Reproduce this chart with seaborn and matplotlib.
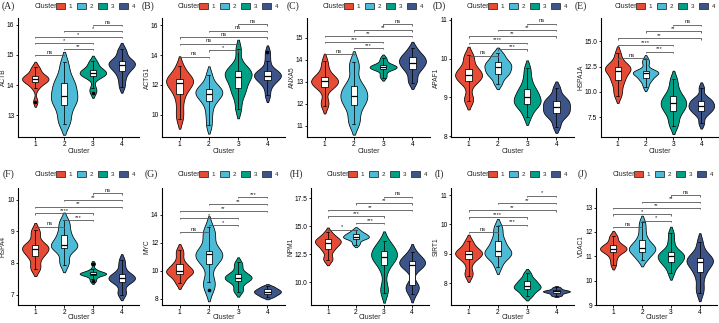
import numpy as np
import pandas as pd
import matplotlib
matplotlib.use("Agg")
import matplotlib.pyplot as plt
from matplotlib.patches import Patch
import seaborn as sns

# 聚类和颜色
clusters = ["1", "2", "3", "4"]
cluster_colors = ["#E64B35", "#4DBBD5", "#00A087", "#3C5488"]
genes = ["ACTB", "ACTG1", "ANXA5", "APAF1", "HSPA1A",
         "HSPA4", "MYC", "NPM1", "SIRT1", "VDAC1"]
panel_tags = ["(A)", "(B)", "(C)", "(D)", "(E)", "(F)", "(G)", "(H)", "(I)", "(J)"]

# 每个基因在4个cluster中的表达值
actb = [[13.45, 13.9, 14.05, 14.1, 14.15, 14.2, 14.2, 14.25, 14.3, 14.35, 14.5, 14.6],
        [12.7, 12.9, 13.2, 13.4, 13.5, 13.6, 13.7, 13.9, 14.05, 14.1, 14.4, 14.75],
        [13.75, 13.9, 14.25, 14.3, 14.35, 14.4, 14.4, 14.45, 14.5, 14.55, 14.7, 14.8],
        [13.95, 14.2, 14.4, 14.5, 14.6, 14.65, 14.7, 14.75, 14.8, 14.85, 15.05, 15.2]]
actg1 = [[9.7, 10.3, 11.0, 11.5, 11.8, 12.0, 12.2, 12.3, 12.4, 12.5, 12.8, 13.3],
         [9.3, 10.0, 10.6, 11.0, 11.2, 11.35, 11.45, 11.6, 11.7, 11.85, 12.1, 12.7],
         [10.4, 11.2, 11.6, 11.85, 12.2, 12.5, 12.6, 12.8, 12.9, 13.0, 13.4, 14.4],
         [11.3, 11.9, 12.2, 12.4, 12.5, 12.6, 12.65, 12.8, 12.9, 13.0, 13.6, 14.2]]
anxa5 = [[11.9, 12.15, 12.7, 12.8, 12.9, 13.0, 13.05, 13.1, 13.2, 13.3, 13.6, 13.95],
         [11.1, 11.3, 11.8, 12.0, 12.2, 12.3, 12.4, 12.6, 12.8, 12.9, 13.6, 13.9],
         [13.2, 13.35, 13.55, 13.58, 13.62, 13.65, 13.7, 13.72, 13.76, 13.8, 13.95, 14.1],
         [12.95, 13.2, 13.5, 13.6, 13.75, 13.85, 13.9, 14.0, 14.1, 14.2, 14.3, 14.55]]
apaf1 = [[8.9, 9.0, 9.35, 9.45, 9.5, 9.55, 9.6, 9.65, 9.7, 9.8, 10.0, 10.1],
         [9.35, 9.5, 9.6, 9.62, 9.7, 9.75, 9.8, 9.85, 9.9, 9.95, 10.05, 10.15],
         [8.5, 8.7, 8.8, 8.85, 8.9, 8.95, 9.05, 9.1, 9.2, 9.3, 9.5, 9.75],
         [8.25, 8.45, 8.55, 8.6, 8.65, 8.72, 8.78, 8.85, 8.9, 8.95, 9.05, 9.25]]
hspa1a = [[9.6, 10.2, 10.9, 11.2, 11.6, 12.0, 12.2, 12.3, 12.4, 12.6, 13.0, 13.8],
          [10.5, 11.0, 11.3, 11.4, 11.7, 11.85, 11.9, 11.95, 12.0, 12.1, 12.8, 13.2],
          [6.6, 7.2, 7.9, 8.2, 8.5, 8.8, 8.9, 9.2, 9.5, 9.8, 10.5, 11.3],
          [6.9, 7.7, 8.0, 8.2, 8.4, 8.55, 8.65, 8.9, 9.1, 9.2, 9.5, 10.4]]
hspa4 = [[7.8, 7.9, 8.15, 8.25, 8.35, 8.42, 8.48, 8.5, 8.55, 8.65, 8.9, 9.05],
         [7.95, 8.1, 8.4, 8.5, 8.52, 8.55, 8.6, 8.75, 8.85, 9.0, 9.2, 9.35],
         [7.42, 7.5, 7.6, 7.62, 7.64, 7.65, 7.67, 7.68, 7.7, 7.72, 7.8, 7.98],
         [7.0, 7.1, 7.35, 7.42, 7.47, 7.5, 7.54, 7.58, 7.62, 7.7, 7.9, 8.1]]
myc = [[9.1, 9.4, 9.7, 9.8, 9.9, 9.95, 10.05, 10.2, 10.4, 10.6, 11.1, 11.5],
       [8.6, 9.2, 9.2, 10.5, 10.7, 11.0, 11.2, 11.25, 11.3, 11.4, 12.5, 12.5, 13.1],
       [8.5, 8.7, 9.1, 9.3, 9.4, 9.45, 9.55, 9.6, 9.75, 9.9, 10.3, 10.6],
       [8.1, 8.2, 8.3, 8.35, 8.42, 8.48, 8.52, 8.58, 8.65, 8.7, 8.8, 8.9]]
npm1 = [[11.95, 12.2, 12.8, 13.0, 13.3, 13.45, 13.55, 13.65, 13.8, 13.9, 14.1, 14.45],
        [13.35, 13.6, 13.85, 13.9, 14.0, 14.05, 14.1, 14.2, 14.3, 14.35, 14.5, 14.7],
        [9.0, 9.6, 11.0, 11.7, 12.0, 12.15, 12.3, 12.6, 12.8, 12.9, 13.3, 13.7],
        [8.9, 9.5, 9.6, 9.7, 11.1, 11.4, 11.55, 11.65, 11.8, 11.9, 12.0, 12.3, 12.7]]
sirt1 = [[8.25, 8.4, 8.7, 8.85, 8.9, 8.98, 9.02, 9.05, 9.1, 9.15, 9.3, 9.45],
         [8.55, 8.8, 8.9, 8.95, 9.05, 9.08, 9.12, 9.25, 9.4, 9.5, 9.75, 9.95],
         [7.55, 7.65, 7.75, 7.8, 7.85, 7.88, 7.92, 7.98, 8.05, 8.1, 8.2, 8.35],
         [7.58, 7.6, 7.65, 7.68, 7.7, 7.71, 7.73, 7.74, 7.75, 7.77, 7.82, 7.86]]
vdac1 = [[10.65, 10.9, 11.1, 11.2, 11.25, 11.28, 11.32, 11.38, 11.45, 11.5, 11.7, 11.85],
         [10.85, 11.0, 11.15, 11.2, 11.3, 11.33, 11.37, 11.5, 11.6, 11.8, 12.1, 12.4],
         [10.3, 10.6, 10.7, 10.8, 10.9, 10.97, 11.03, 11.1, 11.15, 11.3, 11.6, 11.95],
         [9.5, 9.8, 10.2, 10.4, 10.6, 10.7, 10.8, 10.85, 10.9, 11.0, 11.2, 11.6]]
expr = [actb, actg1, anxa5, apaf1, hspa1a, hspa4, myc, npm1, sirt1, vdac1]

# 两两比较及显著性标记
pairs = [(0, 1), (1, 2), (0, 2), (0, 3), (1, 3), (2, 3)]
sig = [["ns", "**", "*", "*", "*", "ns"],
       ["ns", "*", "ns", "ns", "ns", "ns"],
       ["ns", "***", "***", "**", "**", "ns"],
       ["ns", "***", "****", "**", "**", "ns"],
       ["ns", "***", "****", "**", "**", "ns"],
       ["ns", "***", "****", "**", "**", "ns"],
       ["ns", "*", "*", "**", "**", "***"],
       ["*", "***", "***", "**", "**", "ns"],
       ["ns", "***", "****", "**", "**", "*"],
       ["ns", "*", "*", "**", "**", "ns"]]

# 坐标轴刻度
yticks = [[13, 14, 15, 16], [10, 12, 14, 16], [11, 12, 13, 14, 15], [8, 9, 10, 11],
          [7.5, 10.0, 12.5, 15.0], [7, 8, 9, 10], [8, 10, 12, 14],
          [10.0, 12.5, 15.0, 17.5], [8, 9, 10, 11], [9, 10, 11, 12, 13]]

# ---- 布局（像素） ----
ylims = [(12.27, 16.23), (8.53, 16.47), (10.5, 15.9), (7.98, 11.05), (5.53, 17.3),
         (6.67, 10.37), (7.55, 15.9), (7.95, 18.43), (7.26, 11.24), (9.0, 13.8)]
br_base = [15.0, 13.9, 14.27, 10.08, 13.3, 9.15, 12.76, 14.7, 9.75, 12.2]
br_step = [0.2, 0.43, 0.27, 0.165, 0.67, 0.21, 0.5, 0.59, 0.245, 0.26]
ax_px = [(18, 139), (162, 285), (307, 430), (451, 574), (601, 718),
         (18, 139), (162, 285), (311, 429), (451, 574), (596, 717)]
row_px = [(18, 137), (188, 305)]
xlab_top = [148, 314]
tag_x = [2, 142, 287, 433, 575, 3, 145, 290, 435, 578]
leg_x = [35, 178, 323, 467, 615, 35, 178, 327, 467, 613]
head_y = [6, 174]

W, H = 719, 323

sns.set_style("ticks")
plt.rcParams['font.family'] = ['Liberation Sans', 'DejaVu Sans']
plt.rcParams['axes.linewidth'] = 0.8

fig = plt.figure(figsize=(W / 100, H / 100), dpi=100)
pal = dict(zip(clusters, cluster_colors))
handles = [Patch(facecolor=c, edgecolor="#333333", linewidth=0.6) for c in cluster_colors]

for k, gene in enumerate(genes):
    row = k // 5
    l, r = ax_px[k]
    t, b = row_px[row]
    ax = fig.add_axes([l / W, 1 - b / H, (r - l) / W, (b - t) / H])

    df = pd.DataFrame({
        "Cluster": np.repeat(clusters, [len(v) for v in expr[k]]),
        "value": np.concatenate(expr[k]),
    })

    sns.violinplot(data=df, x="Cluster", y="value", hue="Cluster", order=clusters,
                   palette=pal, cut=1.5, bw_adjust=0.65, inner=None, width=0.92,
                   linewidth=0.55, linecolor="black", saturation=1,
                   density_norm="area", legend=False, ax=ax)
    sns.boxplot(data=df, x="Cluster", y="value", order=clusters, width=0.22,
                color="white", linecolor="black", linewidth=0.55, saturation=1,
                whis=2.0, fliersize=1.6,
                flierprops=dict(marker="o", markerfacecolor="black", markeredgecolor="black"),
                medianprops=dict(linewidth=0.9), ax=ax)

    # 显著性括号
    y0, y1 = ylims[k]
    tip = 0.012 * (y1 - y0)
    for n, (i, j) in enumerate(pairs):
        y = br_base[k] + n * br_step[k]
        ax.plot([i, i, j, j], [y - tip, y, y, y - tip], color="#555555", lw=0.6,
                solid_capstyle="butt")
        ax.text((i + j) / 2, y + tip * 0.2, sig[k][n], ha="center", va="bottom",
                fontsize=4.2, color="#222222")

    ax.set_xlim(-0.6, 3.6)
    ax.set_ylim(y0, y1)
    ax.set_yticks(yticks[k])
    if k in (4, 7):
        ax.set_yticklabels([f"{v:.1f}" for v in yticks[k]])
    ax.set_xlabel("Cluster", fontsize=5, va="top")
    ax.xaxis.set_label_coords(0.5, -(xlab_top[row] - b) / (b - t))
    ax.set_ylabel(gene, fontsize=4.8, labelpad=0.3)
    ax.tick_params(axis="both", labelsize=4.8, length=1.8, width=0.6, pad=0.8, colors="black")
    ax.tick_params(axis="x", pad=1.4)
    for s in ["left", "bottom"]:
        ax.spines[s].set_color("black")
        ax.spines[s].set_linewidth(0.8)
    sns.despine(ax=ax)

    # 面板编号和图例
    hy = 1 - head_y[row] / H
    fig.text(tag_x[k] / W, hy, panel_tags[k], fontsize=7, family="Liberation Serif",
             ha="left", va="center")
    fig.text(leg_x[k] / W, hy, "Cluster", fontsize=5, ha="left", va="center")
    fig.legend(handles, clusters, ncol=4, loc="center left",
               bbox_to_anchor=((leg_x[k] + 21) / W, hy), frameon=False,
               fontsize=4.5, handlelength=1.5, handleheight=1.2, handletextpad=0.5,
               columnspacing=0.8, borderpad=0, borderaxespad=0)

fig.savefig("out.png", dpi=100)
